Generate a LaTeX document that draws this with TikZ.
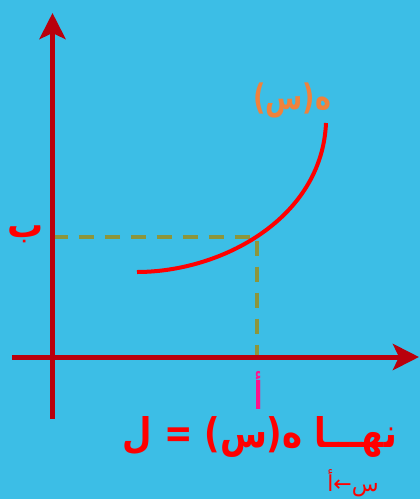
\documentclass[tikz,border=0pt]{standalone}
\usepackage{fontspec}
\usetikzlibrary{arrows.meta}
\TeXXeTstate=1
\newfontfamily\arabicfont[Script=Arabic]{DejaVu Sans}
\definecolor{bgblue}{RGB}{60,190,230}
\definecolor{axisred}{RGB}{185,0,12}
\definecolor{curvered}{RGB}{255,0,0}
\definecolor{dashol}{RGB}{140,150,60}
\definecolor{labor}{RGB}{240,130,60}
\definecolor{pinkl}{RGB}{255,20,140}
\begin{document}
\begin{tikzpicture}[x=1pt,y=-1pt,
  axis/.style={draw=axisred,line width=5pt,-{Stealth[length=26pt,width=26pt,inset=6pt]}},
  guide/.style={draw=dashol,line width=4pt,dash pattern=on 15pt off 11pt},
  curve/.style={draw=curvered,line width=4pt},
  lab/.style={inner sep=0pt}]
\fill[bgblue] (0,0) rectangle (420,499);
\useasboundingbox (0,0) rectangle (420,499);
% coordinates
\coordinate (ybot) at (52.5,419);
\coordinate (ytop) at (52.5,13);
\coordinate (xl) at (12,357);
\coordinate (xr) at (419,357);
\coordinate (yb) at (52.5,237);
\coordinate (p) at (257,237);
\coordinate (pa) at (257,363);
\coordinate (cs) at (137,272);
\coordinate (ce) at (326,123);
% guides
\draw[guide] (yb) -- (p) -- (pa);
% axes
\draw[axis] (ybot) -- (ytop);
\draw[axis] (xl) -- (xr);
% curve
\draw[curve] (cs) .. controls (222,272) and (322,218) .. (ce);
% labels
\node[lab,text=labor,font=\arabicfont\bfseries\fontsize{27}{32}\selectfont,yscale=1.3] (f) at (292,100) {\beginR ه(س)\endR};
\node[lab,text=curvered,font=\arabicfont\bfseries\fontsize{36}{40}\selectfont] (b) at (26,234) {\beginR ب\endR};
\node[lab,text=pinkl,font=\arabicfont\bfseries\fontsize{24}{28}\selectfont,yscale=1.6] (a) at (259,390) {\beginR أ\endR};
\node[lab,text=curvered,font=\arabicfont\bfseries\fontsize{34}{40}\selectfont,yscale=1.2] (lim) at (260,437) {\beginR نهـــا ه(س) = ل\endR};
\node[lab,text=curvered,font=\arabicfont\fontsize{22}{26}\selectfont] (sub) at (353,483) {\beginR س←أ\endR};
\end{tikzpicture}
\end{document}
